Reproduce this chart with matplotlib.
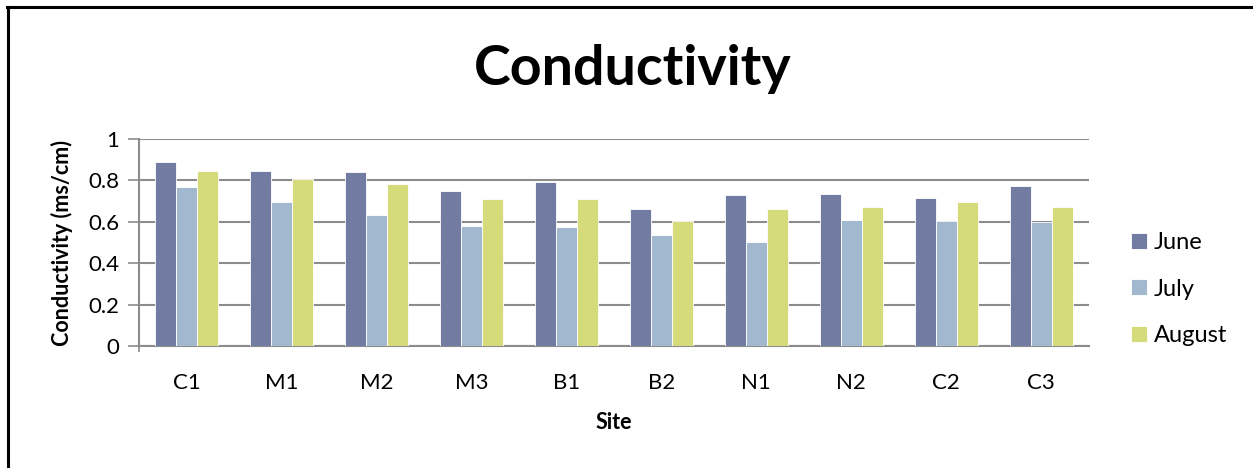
import numpy as np
import matplotlib
matplotlib.use("Agg")
import matplotlib.pyplot as plt
from matplotlib.lines import Line2D

plt.rcParams['font.family'] = ['Lato', 'DejaVu Sans']

sites = ['C1', 'M1', 'M2', 'M3', 'B1', 'B2', 'N1', 'N2', 'C2', 'C3']
june = [0.886, 0.846, 0.838, 0.748, 0.793, 0.663, 0.729, 0.734, 0.716, 0.770]
july = [0.766, 0.695, 0.632, 0.578, 0.575, 0.536, 0.502, 0.607, 0.604, 0.597]
august = [0.843, 0.806, 0.782, 0.708, 0.711, 0.602, 0.660, 0.671, 0.693, 0.669]
months = ['June', 'July', 'August']
colors = ['#727CA3', '#A2B8CF', '#D5DA7A']

fig = plt.figure(figsize=(12.53, 4.68), dpi=100)
ax = fig.add_axes([0.1109, 0.26, 0.758, 0.4436])

x = np.arange(len(sites))
w = 0.222
for i, (vals, name) in enumerate(zip([june, july, august], months)):
    ax.bar(x + (i - 1) * w, vals, width=w, color=colors[i], label=name,
           edgecolor='white', linewidth=0.6, zorder=3)

ax.set_xlim(-0.5, len(sites) - 0.5)
ax.set_ylim(0, 1)
ax.set_yticks([0, 0.2, 0.4, 0.6, 0.8, 1.0])
ax.set_yticklabels(['0', '0.2', '0.4', '0.6', '0.8', '1'])

# one small tick where the axes meet, labels in the middle of each category
ax.set_xticks([-0.5])
ax.set_xticklabels([])
ax.set_xticks(x, minor=True)
ax.set_xticklabels(sites, minor=True)
ax.tick_params(axis='x', which='major', length=4, color='#8c8c8c', width=1.2)
ax.tick_params(axis='x', which='minor', length=0, pad=19, labelsize=16)
ax.tick_params(axis='y', length=8, color='#8c8c8c', width=1.2, pad=6, labelsize=16)

ax.grid(axis='y', color='#8c8c8c', linewidth=1.5, zorder=0)
for s in ['top', 'right']:
    ax.spines[s].set_visible(False)
for s in ['left', 'bottom']:
    ax.spines[s].set_color('#8c8c8c')
    ax.spines[s].set_linewidth(1.5)

ax.set_ylabel('Conductivity (ms/cm)', fontsize=15.5, fontweight='bold', labelpad=11)
ax.set_xlabel('Site', fontsize=15.5, fontweight='bold', labelpad=14)

fig.text(0.505, 0.852, 'Conductivity', ha='center', va='center',
         fontsize=40, fontweight='bold')

ax.legend(loc='center left', bbox_to_anchor=(1.032, 0.276), frameon=False,
          fontsize=17, handlelength=0.66, handleheight=0.66, handletextpad=0.3,
          labelspacing=1.08, borderpad=0)

# partial chart border (top and left only)
fig.add_artist(Line2D([0.0056, 1.0], [0.985, 0.985], color='black', linewidth=2.2,
                      transform=fig.transFigure))
fig.add_artist(Line2D([0.0064, 0.0064], [0.0, 0.985], color='black', linewidth=2.2,
                      transform=fig.transFigure))

fig.savefig('out.png', dpi=100)
